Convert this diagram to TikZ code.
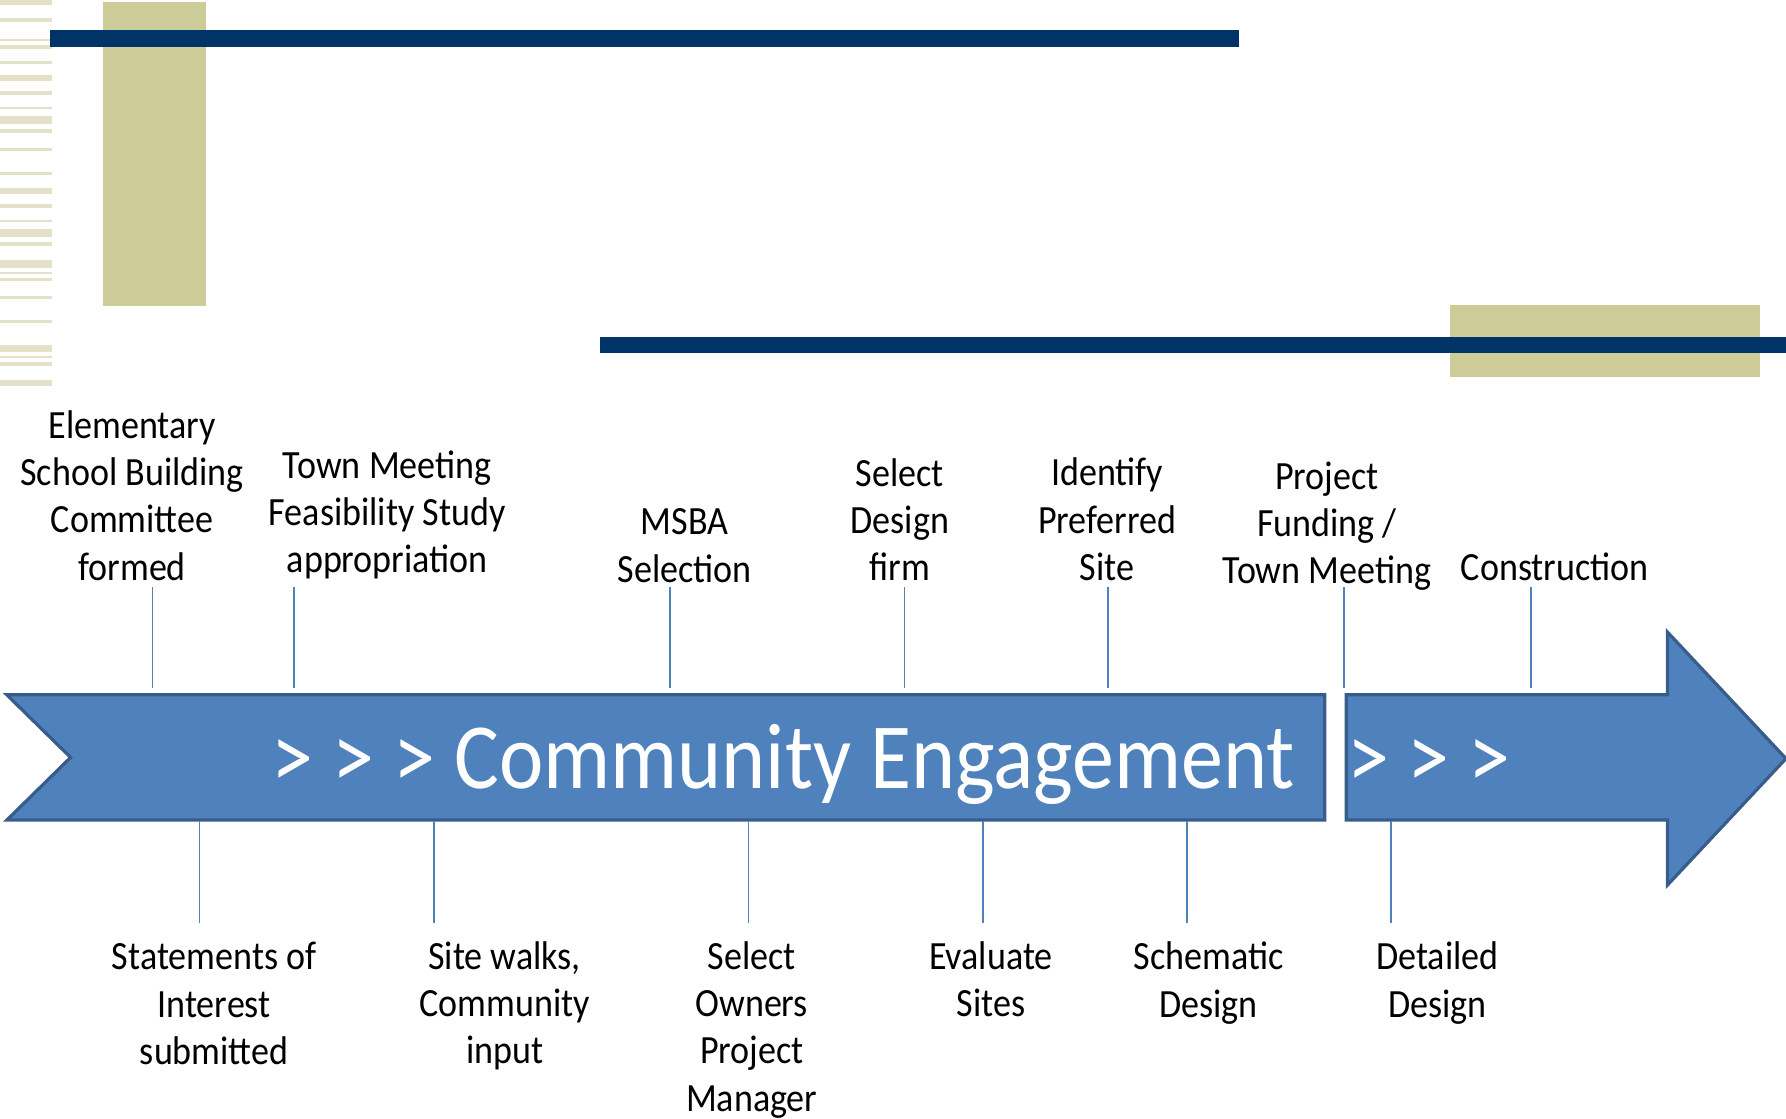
\documentclass[tikz,border=0pt]{standalone}
\usepackage{fontspec}
\setmainfont{Carlito}[FakeStretch=0.9]
\usepackage{xcolor}
\definecolor{navy}{RGB}{0,51,102}
\definecolor{olive}{RGB}{205,204,153}
\definecolor{paleolive}{RGB}{227,225,199}
\definecolor{arrowblue}{RGB}{79,129,189}
\definecolor{arrowedge}{RGB}{56,93,138}

\begin{document}
\begin{tikzpicture}[x=0.01cm,y=-0.01cm,
	tick/.style={arrowblue,line width=0.4pt},
	lbl/.style={align=center,inner sep=0pt,font=\fontsize{10}{11.8}\selectfont},
	banner/.style={fill=arrowblue,draw=arrowedge,line width=0.8pt,line join=miter}]
	\useasboundingbox (0,0) rectangle (1568,982);

	% slide decoration
	\foreach \a/\b in {0/4,15.8/19.3,34.2/35.7,39.5/42.7,53.6/55.9,65.8/70.8,79.9/83.1,93.6/95.4,
		101.8/108.6,113.3/116.5,129.9/132.3,151/153.4,165/170,179.1/182.3,193.2/194.9,201/207.8,
		212.5/215.7,228.3/235,238.8/240.3,244/246.4,259.9/262.2,281/283.3,302.9/308.8,312.5/314.3,
		317.8/321.1,333.6/338.7}
		\fill[paleolive] (0,\a) rectangle (46,\b);
	\fill[olive] (90,2) rectangle (181,269);
	\fill[navy] (44,26) rectangle (1088,41);
	\fill[olive] (1273,268) rectangle (1545,331);
	\fill[navy] (527,296) rectangle (1568,310);

	% the arrow
	\draw[banner] (6,610) -- (1163,610) -- (1163,720) -- (6,720) -- (62,665) -- cycle;
	\draw[banner] (1182,610) -- (1464,610) -- (1464,555) -- (1568,666) -- (1464,777)
		-- (1464,720) -- (1182,720) -- cycle;
	\node[anchor=base west,inner sep=0pt,white,font=\fontsize{23.3}{28}\selectfont] (engage) at (238,692)
		{> > > Community Engagement};
	\node[anchor=base west,inner sep=0pt,white,font=\fontsize{23.3}{28}\selectfont] (more) at (1182,692)
		{> > >};

	% milestones above
	\node[lbl] (elem) at (116,435) {Elementary\\School Building\\Committee\\formed};
	\node[lbl] (townmtg) at (340,452) {Town Meeting\\Feasibility Study\\appropriation};
	\node[lbl] (msba) at (601,479) {MSBA\\Selection};
	\node[lbl] (design) at (790,456) {Select\\Design\\firm};
	\node[lbl] (site) at (972,456) {Identify\\Preferred\\Site};
	\node[lbl] (funding) at (1165,462) {Project\\Funding /\\Town Meeting};
	\node[lbl] (constr) at (1365,498) {Construction};

	% milestones below
	\node[lbl] (soi) at (188,881) {Statements of\\Interest\\submitted};
	\node[lbl] (walks) at (443,883) {Site walks,\\Community\\input};
	\node[lbl] (opm) at (660,904) {Select\\Owners\\Project\\Manager};
	\node[lbl] (evalsites) at (870,860) {Evaluate\\Sites};
	\node[lbl] (schem) at (1061,863) {Schematic\\Design};
	\node[lbl] (detail) at (1262,863) {Detailed\\Design};

	\foreach \x/\n in {134/a,258/b,588/c,794/d,973/e,1180/f,1344/g}{
		\coordinate (up\n) at (\x,604);
		\draw[tick] (up\n) -- ++(0,-89);
	}
	\foreach \x/\n in {175/a,381/b,657/c,863/d,1042/e,1221/f}{
		\coordinate (dn\n) at (\x,721);
		\draw[tick] (dn\n) -- ++(0,89);
	}
\end{tikzpicture}
\end{document}
